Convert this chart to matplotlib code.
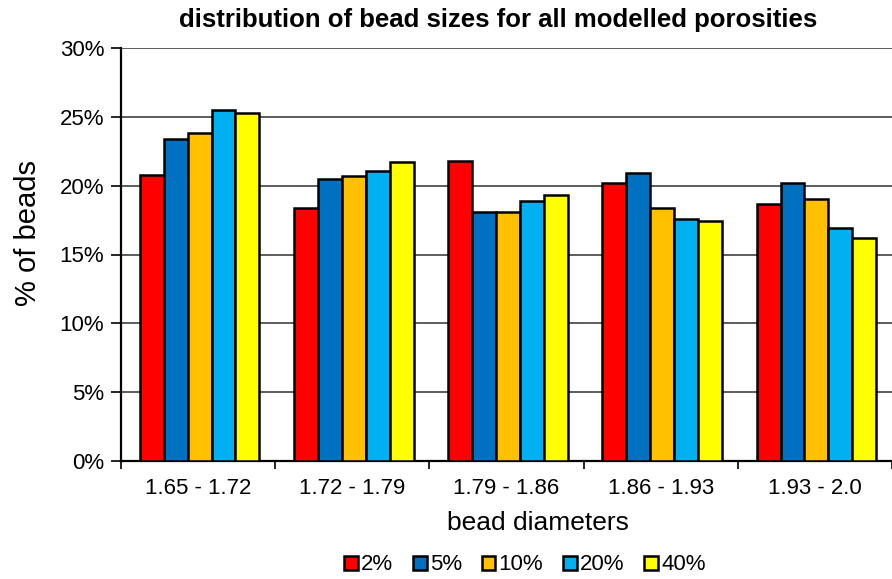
import matplotlib.pyplot as plt
import numpy as np

plt.rcParams['font.family'] = ['Liberation Sans', 'DejaVu Sans']

categories = ['1.65 - 1.72', '1.72 - 1.79', '1.79 - 1.86', '1.86 - 1.93', '1.93 - 2.0']
series_names = ['2%', '5%', '10%', '20%', '40%']
values = {
    '2%':  [20.8, 18.4, 21.8, 20.2, 18.7],
    '5%':  [23.4, 20.5, 18.1, 20.9, 20.2],
    '10%': [23.8, 20.7, 18.1, 18.4, 19.0],
    '20%': [25.5, 21.1, 18.9, 17.6, 16.9],
    '40%': [25.3, 21.7, 19.3, 17.45, 16.2],
}
colors = ['#FF0000', '#0070C0', '#FFC000', '#00B0F0', '#FFFF00']

fig = plt.figure(figsize=(8.92, 5.79), dpi=100)
ax = fig.add_axes([121 / 892, 1 - 461 / 579, 1 - 121 / 892, (461 - 48) / 579])

x = np.arange(len(categories))
bw = 0.155
for i, name in enumerate(series_names):
    ax.bar(x + (i - 2) * bw + 0.01, values[name], bw, color=colors[i], edgecolor='black',
           linewidth=1.8, label=name, zorder=3)

ax.set_xlim(-0.5, len(categories) - 0.5)
ax.set_ylim(0, 30)
ax.set_yticks(range(0, 31, 5))
ax.set_yticklabels([f'{v}%' for v in range(0, 31, 5)], fontsize=16)
ax.set_xticks(x)
ax.set_xticklabels(categories, fontsize=16)
ax.set_xticks(np.arange(-0.5, len(categories)), minor=True)
ax.tick_params(axis='x', which='major', length=0, pad=12)
ax.tick_params(axis='x', which='minor', length=6, width=1.2, direction='out')
ax.tick_params(axis='y', length=7, width=1.2, direction='out', pad=5)

ax.grid(axis='y', color='#505050', linewidth=1.3, zorder=0)
for s in ['top', 'right']:
    ax.spines[s].set_visible(False)
ax.spines['left'].set_linewidth(1.6)
ax.spines['bottom'].set_linewidth(1.6)

fig.text(28 / 892, 1 - 233 / 579, '% of beads', fontsize=21, rotation=90,
         ha='center', va='center')
fig.text(538 / 892, 1 - 523 / 579, 'bead diameters', fontsize=19, ha='center', va='center')
fig.text(498 / 892, 1 - 20 / 579, 'distribution of bead sizes for all modelled porosities',
         fontsize=18.5, fontweight='bold', ha='center', va='center')

fig.legend(loc='center', bbox_to_anchor=(525 / 892, 1 - 565 / 579), ncol=5, frameon=False,
           fontsize=16, handlelength=0.6, handleheight=0.6, handletextpad=0.15,
           columnspacing=0.9, borderpad=0)

fig.savefig('out.png', dpi=100)
